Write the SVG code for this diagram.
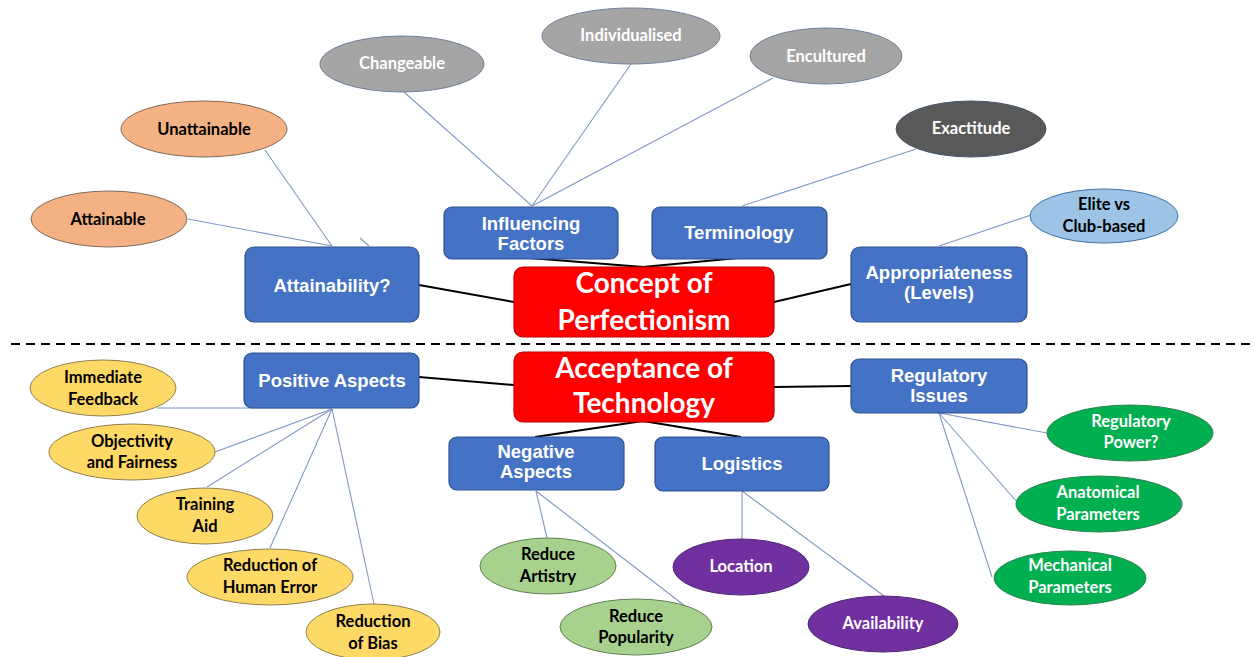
<svg xmlns="http://www.w3.org/2000/svg" width="1254" height="657" viewBox="0 0 1254 657">
<style>
.box{fill:#4472C4;stroke:#2F528F;stroke-width:1.2}
.red{fill:#FF0000;stroke:#C00000;stroke-width:1.2}
.bt{font-family:"Liberation Sans",Arial,sans-serif;font-weight:bold;font-size:18.5px;fill:#fff;text-anchor:middle}
.rt{font-family:Lato,"Open Sans",sans-serif;font-weight:bold;font-size:28px;fill:#fff;text-anchor:middle}
.et{font-family:Lato,"Open Sans",sans-serif;font-weight:bold;font-size:16.5px;text-anchor:middle}
.w{fill:#fff}.k{fill:#000}
.thin{stroke:#7F98C4;stroke-width:1.1;fill:none}
.thick{stroke:#000;stroke-width:2;fill:none}
.gray{fill:#A5A5A5;stroke:#6F7F99;stroke-width:1}
.dgray{fill:#595959;stroke:#44546A;stroke-width:1}
.org{fill:#F4B183;stroke:#7F6A5A;stroke-width:1}
.lblue{fill:#9DC3E6;stroke:#41719C;stroke-width:1}
.yel{fill:#FFD966;stroke:#8F7F50;stroke-width:1}
.lgr{fill:#A9D18E;stroke:#5F7F55;stroke-width:1}
.pur{fill:#7030A0;stroke:#4F2575;stroke-width:1}
.gr{fill:#00B050;stroke:#2F7F4F;stroke-width:1}
</style>
<rect width="1254" height="657" fill="#fff"/>
<line x1="11" y1="344" x2="1254" y2="344" stroke="#000" stroke-width="2" stroke-dasharray="9 6"/>
<g id="connectors">
<line class="thin" x1="265" y1="150" x2="332" y2="246"/>
<line class="thin" x1="188" y1="219" x2="332" y2="246"/>
<line class="thin" x1="360" y1="238" x2="369" y2="246"/>
<line class="thin" x1="404" y1="92" x2="532" y2="206"/>
<line class="thin" x1="631" y1="64" x2="532" y2="206"/>
<line class="thin" x1="773" y1="78" x2="532" y2="206"/>
<line class="thin" x1="916" y1="149" x2="742" y2="206"/>
<line class="thin" x1="1031" y1="215" x2="939" y2="246"/>
<line class="thick" x1="419" y1="285" x2="514" y2="302"/>
<polyline class="thick" points="530,258 643,267 738,258"/>
<line class="thick" x1="774" y1="302" x2="851" y2="284"/>
<line class="thick" x1="419" y1="377" x2="514" y2="385"/>
<line class="thick" x1="774" y1="387" x2="851" y2="386"/>
<polyline class="thick" points="535,437 643,421 741,437"/>
<line class="thin" x1="157" y1="408" x2="332" y2="408"/>
<line class="thin" x1="215" y1="452" x2="332" y2="409"/>
<line class="thin" x1="207" y1="487" x2="332" y2="409"/>
<line class="thin" x1="270" y1="548" x2="332" y2="409"/>
<line class="thin" x1="374" y1="604" x2="332" y2="409"/>
<line class="thin" x1="536" y1="491" x2="547" y2="538"/>
<line class="thin" x1="536" y1="491" x2="685" y2="606"/>
<line class="thin" x1="742" y1="491" x2="742" y2="539"/>
<line class="thin" x1="742" y1="491" x2="884" y2="596"/>
<line class="thin" x1="939" y1="413" x2="1047" y2="433"/>
<line class="thin" x1="939" y1="413" x2="1017" y2="502"/>
<line class="thin" x1="939" y1="413" x2="992" y2="577"/>
</g>
<g id="changeable"><ellipse class="gray" cx="402" cy="64" rx="82" ry="28"/><text class="et w" x="402" y="69">Changeable</text></g>
<g id="individualised"><ellipse class="gray" cx="631" cy="36" rx="89" ry="28"/><text class="et w" x="631" y="41">Individualised</text></g>
<g id="encultured"><ellipse class="gray" cx="826" cy="56" rx="76" ry="28"/><text class="et w" x="826" y="62">Encultured</text></g>
<g id="exactitude"><ellipse class="dgray" cx="971" cy="129" rx="75" ry="28"/><text class="et w" x="971" y="134">Exactitude</text></g>
<g id="elite"><ellipse class="lblue" cx="1104" cy="216" rx="74" ry="27"/><text class="et k" x="1104" y="210">Elite vs</text><text class="et k" x="1104" y="232">Club-based</text></g>
<g id="unattainable"><ellipse class="org" cx="204" cy="129" rx="83" ry="28"/><text class="et k" x="204" y="135">Unattainable</text></g>
<g id="attainable"><ellipse class="org" cx="109" cy="219" rx="78" ry="28"/><text class="et k" x="108" y="225">Attainable</text></g>
<g id="attainability"><rect class="box" x="245" y="247" width="174" height="75" rx="9"/><text class="bt" x="332" y="292">Attainability?</text></g>
<g id="influencing"><rect class="box" x="444" y="207" width="174" height="52" rx="8"/><text class="bt" x="531" y="230">Influencing</text><text class="bt" x="531" y="250">Factors</text></g>
<g id="terminology"><rect class="box" x="652" y="207" width="175" height="52" rx="8"/><text class="bt" x="739" y="239">Terminology</text></g>
<g id="appropriateness"><rect class="box" x="851" y="247" width="176" height="75" rx="9"/><text class="bt" x="939" y="279">Appropriateness</text><text class="bt" x="939" y="299">(Levels)</text></g>
<g id="concept"><rect class="red" x="514" y="267" width="260" height="70" rx="9"/><text class="rt" x="644" y="293">Concept of</text><text class="rt" x="644" y="330">Perfectionism</text></g>
<g id="acceptance"><rect class="red" x="514" y="352" width="260" height="70" rx="9"/><text class="rt" x="644" y="378">Acceptance of</text><text class="rt" x="644" y="413">Technology</text></g>
<g id="positive"><rect class="box" x="244" y="353" width="175" height="55" rx="8"/><text class="bt" x="332" y="387">Positive Aspects</text></g>
<g id="negative"><rect class="box" x="449" y="437" width="175" height="53" rx="8"/><text class="bt" x="536" y="458">Negative</text><text class="bt" x="536" y="478">Aspects</text></g>
<g id="logistics"><rect class="box" x="655" y="437" width="174" height="54" rx="8"/><text class="bt" x="742" y="470">Logistics</text></g>
<g id="regulatory"><rect class="box" x="851" y="359" width="176" height="54" rx="8"/><text class="bt" x="939" y="382">Regulatory</text><text class="bt" x="939" y="402">Issues</text></g>
<g id="immediate"><ellipse class="yel" cx="103" cy="388" rx="73" ry="28"/><text class="et k" x="103" y="383">Immediate</text><text class="et k" x="103" y="405">Feedback</text></g>
<g id="objectivity"><ellipse class="yel" cx="132" cy="452" rx="83" ry="28"/><text class="et k" x="132" y="447">Objectivity</text><text class="et k" x="132" y="468">and Fairness</text></g>
<g id="training"><ellipse class="yel" cx="205" cy="516" rx="68" ry="28"/><text class="et k" x="205" y="510">Training</text><text class="et k" x="205" y="532">Aid</text></g>
<g id="humanerror"><ellipse class="yel" cx="270" cy="577" rx="83" ry="28"/><text class="et k" x="270" y="571">Reduction of</text><text class="et k" x="270" y="593">Human Error</text></g>
<g id="bias"><ellipse class="yel" cx="373" cy="632" rx="67" ry="28"/><text class="et k" x="373" y="627">Reduction</text><text class="et k" x="373" y="649">of Bias</text></g>
<g id="artistry"><ellipse class="lgr" cx="548" cy="566" rx="68" ry="28"/><text class="et k" x="548" y="560">Reduce</text><text class="et k" x="548" y="582">Artistry</text></g>
<g id="popularity"><ellipse class="lgr" cx="636" cy="627" rx="76" ry="28"/><text class="et k" x="636" y="622">Reduce</text><text class="et k" x="636" y="643">Popularity</text></g>
<g id="location"><ellipse class="pur" cx="741" cy="567" rx="68" ry="28"/><text class="et w" x="741" y="572">Location</text></g>
<g id="availability"><ellipse class="pur" cx="883" cy="624" rx="75" ry="28"/><text class="et w" x="883" y="629">Availability</text></g>
<g id="regpower"><ellipse class="gr" cx="1130" cy="433" rx="83" ry="28"/><text class="et w" x="1131" y="427">Regulatory</text><text class="et w" x="1131" y="448">Power?</text></g>
<g id="anatomical"><ellipse class="gr" cx="1099" cy="504" rx="83" ry="28"/><text class="et w" x="1098" y="498">Anatomical</text><text class="et w" x="1098" y="520">Parameters</text></g>
<g id="mechanical"><ellipse class="gr" cx="1070" cy="578" rx="76" ry="27"/><text class="et w" x="1070" y="571">Mechanical</text><text class="et w" x="1070" y="593">Parameters</text></g>
</svg>
